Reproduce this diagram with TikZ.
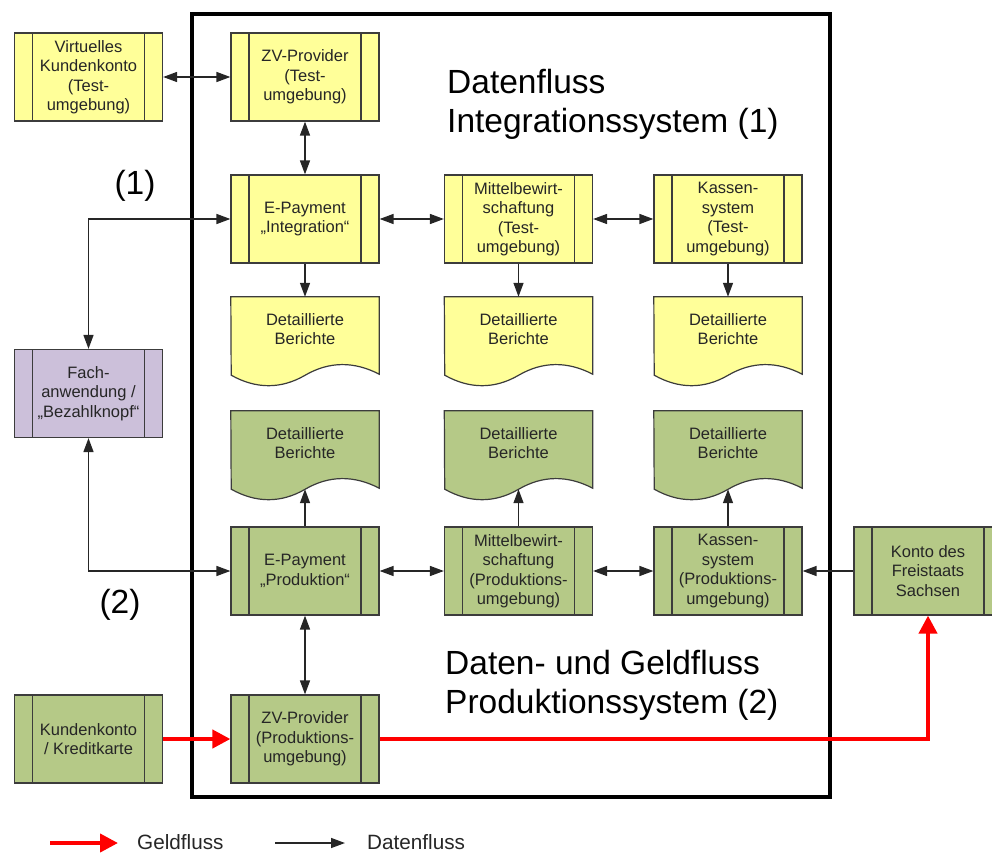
\documentclass[tikz,border=0pt]{standalone}
\usepackage{fontspec}
\setmainfont{Liberation Sans}
\usetikzlibrary{arrows.meta, backgrounds}

\definecolor{procyellow}{HTML}{FFFF99}
\definecolor{procgreen}{HTML}{B5C987}
\definecolor{procviolet}{HTML}{CCC0DA}
\definecolor{procline}{HTML}{3C3C3C}

\begin{document}
\begin{tikzpicture}
                        [
                            x=1pt, y=-1pt,
                            proc/.style = {draw=procline, shape=rectangle, minimum height=88pt, minimum width=148pt, line width=1.2pt, inner sep=0pt, align=center, text=black!85, font=\fontsize{16.5}{19.5}\selectfont,
                                path picture={\draw[procline, line width=1.2pt] ([xshift=18pt]path picture bounding box.north west) -- ([xshift=18pt]path picture bounding box.south west);
                                              \draw[procline, line width=1.2pt] ([xshift=-18pt]path picture bounding box.north east) -- ([xshift=-18pt]path picture bounding box.south east);}},
                            doc/.style = {shape=rectangle, minimum height=64pt, minimum width=148pt, inner sep=0pt, align=center, text=black!85, font=\fontsize{16.5}{19.5}\selectfont},
                            title/.style = {inner sep=0pt, align=left, font=\fontsize{33.5}{39}\selectfont},
                            legend/.style = {inner sep=0pt, text=black!85, font=\fontsize{20.7}{24}\selectfont},
                            data/.style = {draw=black!85, line width=1.4pt, >={Triangle[length=14pt,width=10pt]}},
                            money/.style = {draw=red, line width=4pt, -{Triangle[length=18pt,width=18pt]}},
                        ]

                        \useasboundingbox (0,0) rectangle (992,853);

                        % frame of the system
                        \draw[line width=3.5pt] (192,14) rectangle (830,797);

                        % test system (1)
                        \node[proc, fill=procyellow] (vk)  at (88.5,77)  {Virtuelles\\Kundenkonto\\(Test-\\umgebung)};
                        \node[proc, fill=procyellow] (zvt) at (305,77)   {ZV-Provider\\(Test-\\umgebung)};
                        \node[proc, fill=procyellow] (ept) at (305,219)  {E-Payment\\„Integration“};
                        \node[proc, fill=procyellow] (mwt) at (518.5,219) {Mittelbewirt-\\schaftung\\(Test-\\umgebung)};
                        \node[proc, fill=procyellow] (kst) at (728,219)  {Kassen-\\system\\(Test-\\umgebung)};
                        \node[doc] (d1) at (305,329)   {Detaillierte\\Berichte};
                        \node[doc] (d2) at (518.5,329) {Detaillierte\\Berichte};
                        \node[doc] (d3) at (728,329)   {Detaillierte\\Berichte};

                        \node[proc, fill=procviolet] (fa) at (88.5,393.5) {Fach-\\anwendung /\\„Bezahlknopf“};

                        % production system (2)
                        \node[doc] (d4) at (305,443)   {Detaillierte\\Berichte};
                        \node[doc] (d5) at (518.5,443) {Detaillierte\\Berichte};
                        \node[doc] (d6) at (728,443)   {Detaillierte\\Berichte};
                        \node[proc, fill=procgreen] (epp) at (305,571)   {E-Payment\\„Produktion“};
                        \node[proc, fill=procgreen] (mwp) at (518.5,571) {Mittelbewirt-\\schaftung\\(Produktions-\\umgebung)};
                        \node[proc, fill=procgreen] (ksp) at (728,571)   {Kassen-\\system\\(Produktions-\\umgebung)};
                        \node[proc, fill=procgreen] (kfs) at (928,571)   {Konto des\\Freistaats\\Sachsen};
                        \node[proc, fill=procgreen] (zvp) at (305,739)   {ZV-Provider\\(Produktions-\\umgebung)};
                        \node[proc, fill=procgreen] (kk)  at (88.5,739)  {Kundenkonto\\/ Kreditkarte};

                        % document shapes behind the report texts
                        \begin{scope}[on background layer]
                            \foreach \n/\col in {d1/procyellow, d2/procyellow, d3/procyellow, d4/procgreen, d5/procgreen, d6/procgreen}
                                \filldraw[fill=\col, draw=procline, line width=1.2pt] (\n.north west) -- (\n.north east) -- ([yshift=-13pt]\n.south east)
                                    .. controls +(-25,-13) and +(24,-14) .. ++(-74,1) .. controls +(-24,14) and +(25,14) .. ++(-74,0) -- cycle;
                        \end{scope}

                        % titles
                        \node[title, anchor=north west] (t1) at (447,69)  {Datenfluss\\Integrationssystem (1)};
                        \node[title, anchor=north west] (t2) at (445,650) {Daten- und Geldfluss\\Produktionssystem (2)};
                        \node[title] (l1) at (135,186) {(1)};
                        \node[title] (l2) at (120,605) {(2)};

                        % data flow
                        \draw[data, <->] (vk) -- (zvt);
                        \draw[data, <->] (zvt) -- (ept);
                        \draw[data, <->] (ept) -- (mwt);
                        \draw[data, <->] (mwt) -- (kst);
                        \draw[data, ->] (ept) -- (d1);
                        \draw[data, ->] (mwt) -- (d2);
                        \draw[data, ->] (kst) -- (d3);
                        \draw[data, <->] (ept.west) -| (fa.north);
                        \draw[data, <->] (fa.south) |- (epp.west);
                        \draw[data, ->] (epp.north) -- ([yshift=-14pt]d4.south);
                        \draw[data, ->] (mwp.north) -- ([yshift=-14pt]d5.south);
                        \draw[data, ->] (ksp.north) -- ([yshift=-14pt]d6.south);
                        \draw[data, <->] (epp) -- (mwp);
                        \draw[data, <->] (mwp) -- (ksp);
                        \draw[data, ->] (kfs) -- (ksp);
                        \draw[data, <->] (epp) -- (zvp);

                        % money flow
                        \draw[money] (kk) -- (zvp);
                        \draw[money] (zvp.east) -| (kfs.south);

                        % legend
                        \coordinate (g0) at (50,843);
                        \coordinate (g1) at (118,843);
                        \draw[money] (g0) -- (g1);
                        \node[legend, anchor=west] (gtxt) at (137,842) {Geldfluss};
                        \coordinate (f0) at (275,843);
                        \coordinate (f1) at (345,843);
                        \draw[data, ->] (f0) -- (f1);
                        \node[legend, anchor=west] (ftxt) at (367,842) {Datenfluss};
                    \end{tikzpicture}
\end{document}
